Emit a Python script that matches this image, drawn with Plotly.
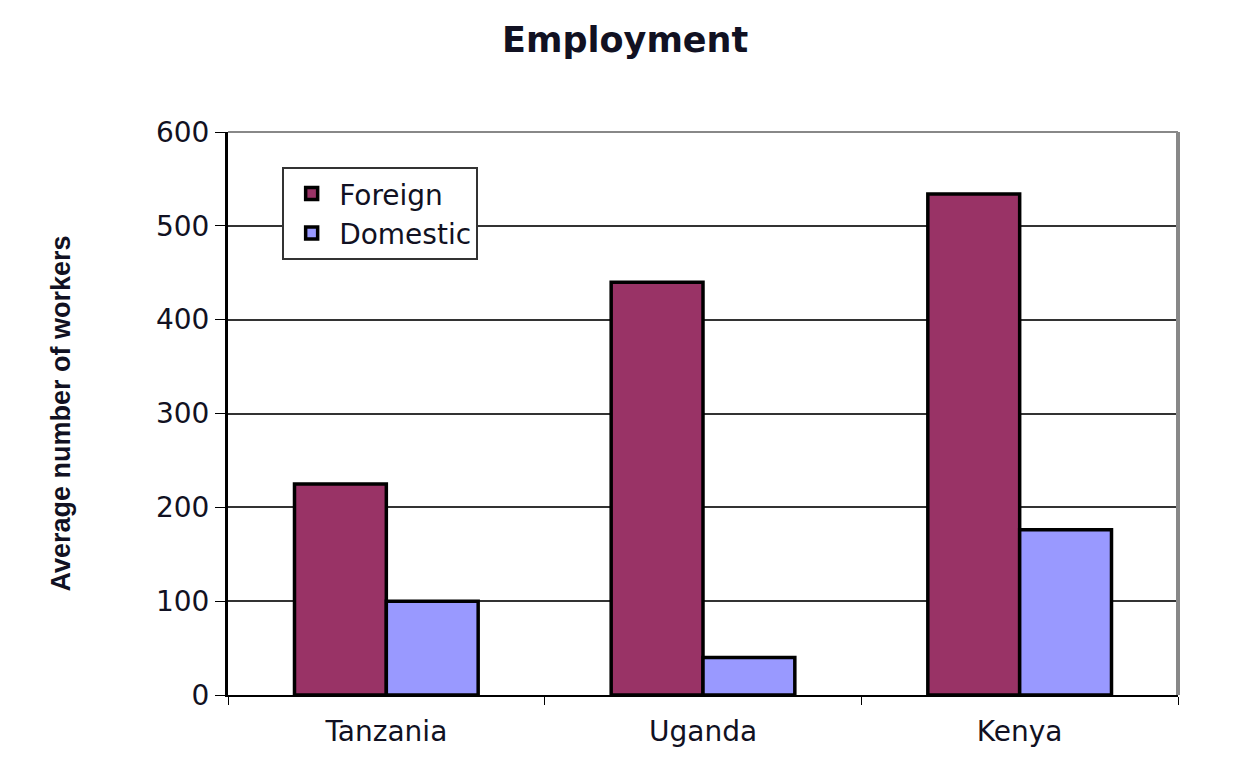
import plotly.graph_objects as go

categories = ["Tanzania", "Uganda", "Kenya"]
foreign = [225, 440, 534]
domestic = [100, 40, 176]
y_ticks = [0, 100, 200, 300, 400, 500, 600]

TXT = "#111122"
WIDE = "DejaVu Sans, Verdana, sans-serif"

fig = go.Figure()
fig.add_trace(go.Bar(name="Foreign", x=categories, y=foreign,
                     marker=dict(color="#993366", line=dict(color="black", width=3.5))))
fig.add_trace(go.Bar(name="Domestic", x=categories, y=domestic,
                     marker=dict(color="#9999FF", line=dict(color="black", width=3.5))))

fig.update_layout(
    width=1238, height=770,
    margin=dict(l=228, r=60, t=132, b=75),
    paper_bgcolor="white", plot_bgcolor="white",
    barmode="group", bargap=0.42, bargroupgap=0,
    title=dict(text="<b>Employment</b>", x=0.505, xanchor="center", y=0.948, yanchor="middle",
               font=dict(family=WIDE, size=35, color=TXT)),
    font=dict(family=WIDE, color=TXT),
    showlegend=True,
    legend=dict(x=0.057, y=0.938, xanchor="left", yanchor="top",
                bordercolor="#333333", borderwidth=2, bgcolor="white",
                font=dict(size=28, color=TXT), traceorder="normal",
                itemwidth=45, tracegroupgap=0),
    xaxis=dict(showline=True, linecolor="black", linewidth=2,
               ticks="outside", tickson="boundaries", ticklen=8, tickcolor="black",
               ticklabelstandoff=10,
               tickfont=dict(size=28, color=TXT), showgrid=False),
    yaxis=dict(range=[0, 600], tickvals=y_ticks, showline=True, linecolor="black", linewidth=3,
               ticks="outside", ticklen=10, tickcolor="black",
               showgrid=True, gridcolor="#333333", gridwidth=1.5,
               tickfont=dict(size=28, color=TXT),
               title=dict(text="<b>Average number of workers</b>", standoff=78,
                          font=dict(family="Liberation Sans, Arial", size=27, color=TXT))),
)
fig.add_shape(type="line", xref="paper", yref="paper", x0=0, x1=1, y0=1, y1=1,
              line=dict(color="#888888", width=2))
fig.add_shape(type="line", xref="paper", yref="paper", x0=1, x1=1, y0=0, y1=1,
              line=dict(color="#888888", width=4))

fig.write_html("out.html")
